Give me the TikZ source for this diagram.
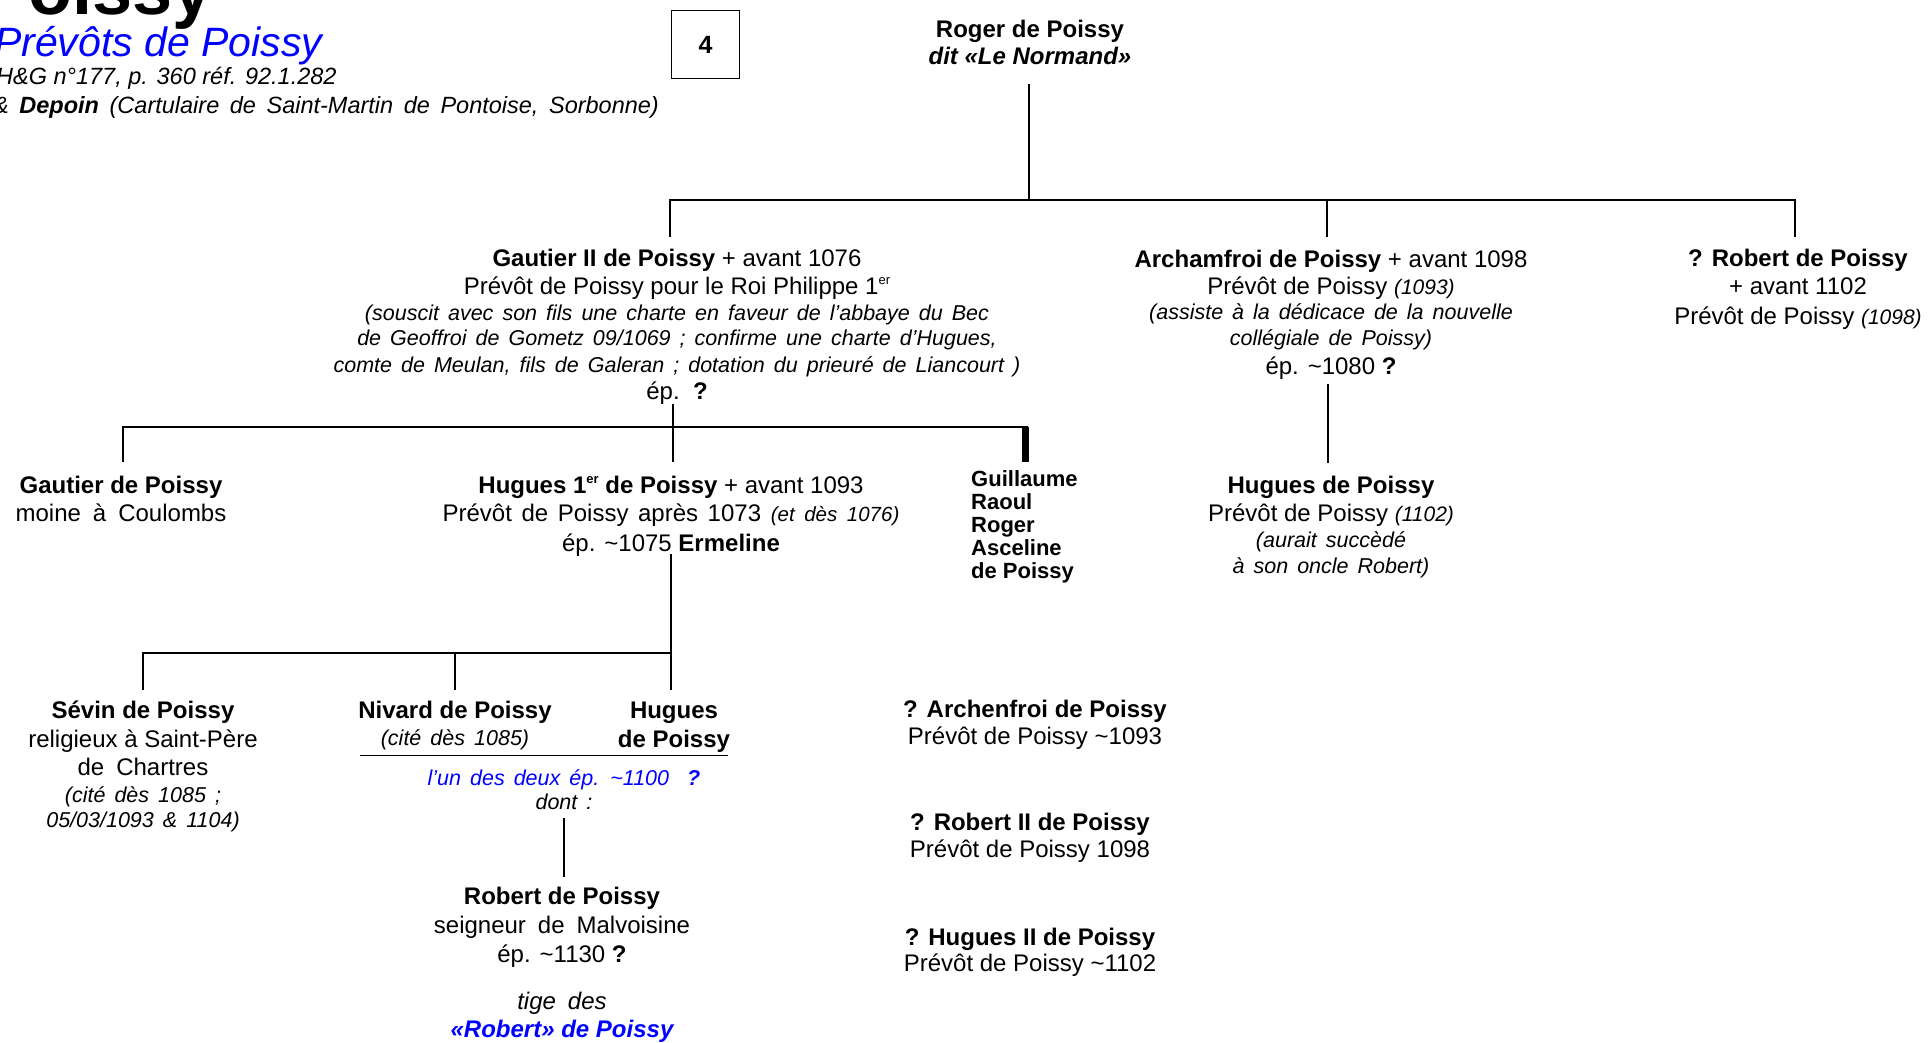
\documentclass[tikz,border=0pt]{standalone}
\usepackage{fontspec}
\setmainfont{Liberation Sans}
\definecolor{refblue}{RGB}{0,0,255}
\newcommand\ws{\spaceskip=0.5em plus 0.1em\relax}
\newcommand\nt{\fontsize{21.5}{25}\selectfont\itshape\spaceskip=0.42em plus 0.1em\relax}
\newcommand\sm{\fontsize{21}{25}\selectfont\itshape}
\newcommand\supr[1]{\raisebox{0.75ex}{\fontsize{13}{13}\selectfont #1}}
\begin{document}
\begin{tikzpicture}[x=1pt,y=-1pt,
  person/.style={align=center, inner sep=0pt, anchor=base, font=\fontsize{24}{28}\selectfont},
  hdr/.style={anchor=base west, inner sep=0pt},
  link/.style={line width=2.5pt, line join=miter},
  thin/.style={line width=1pt}]
\useasboundingbox (0,0) rectangle (1932,1042);
\clip (0,0) rectangle (1932,1042);

% header
\node[hdr, font=\fontsize{72}{72}\selectfont\bfseries] (title) at (-20,14) {Poissy};
\node[hdr, font=\fontsize{41}{41}\selectfont\itshape, text=refblue] (sub) at (-6,56) {Prévôts de Poissy};
\node[hdr, font=\fontsize{23.5}{28}\selectfont\itshape] (ref1) at (-4,84) {H\&G n°177, p. 360 réf. 92.1.282};
\node[hdr, font=\fontsize{23.5}{28}\selectfont\itshape] (ref2) at (-7,113) {\spaceskip=0.45em\relax\& {\bfseries Depoin} (Cartulaire de Saint-Martin de Pontoise, Sorbonne)};
\node[draw, line width=1.2pt, minimum width=68pt, minimum height=68pt, inner sep=0pt, font=\fontsize{25}{25}\selectfont\bfseries] (num) at (705.5,44.5) {4};

% generation 1 (node base = last line baseline)
\node[person] (roger) at (1030,64) {\bfseries Roger de Poissy\\[-1pt]{\bfseries\itshape dit «Le Normand»}};

% generation 2
\node[person] (gautier2) at (677,399) {{\bfseries Gautier II de Poissy} + avant 1076\\
Prévôt de Poissy pour le Roi Philippe 1\supr{er}\\[-2pt]
{\nt (souscit avec son fils une charte en faveur de l’abbaye du Bec}\\[-3pt]
{\nt de Geoffroi de Gometz 09/1069 ; confirme une charte d’Hugues,}\\[-1pt]
{\nt comte de Meulan, fils de Galeran ; dotation du prieuré de Liancourt )}\\[-1pt]
ép.\ \ {\bfseries ?}};

\node[person] (archamfroi) at (1331,374) {{\bfseries Archamfroi de Poissy} + avant 1098\\[-1pt]
Prévôt de Poissy {\sm (1093)}\\[-3pt]
{\nt (assiste à la dédicace de la nouvelle}\\[-2pt]
{\nt collégiale de Poissy)}\\[1pt]
ép. \textasciitilde1080 {\bfseries ?}};

\node[person] (robert1) at (1798,324) {{\bfseries ? Robert de Poissy}\\
+ avant 1102\\[2pt]
Prévôt de Poissy {\sm (1098)}};

% generation 3
\node[person] (gautier) at (121,521) {{\bfseries Gautier de Poissy}\\
{\ws moine à Coulombs}};

\node[person] (hugues1) at (671,551) {{\bfseries Hugues 1\supr{er} de Poissy} + avant 1093\\
{\spaceskip=0.4em\relax Prévôt de Poissy après 1073 {\fontsize{20.5}{25}\selectfont\itshape (et dès 1076)}}\\[2pt]
ép. \textasciitilde1075 {\bfseries Ermeline}};

\node[anchor=base west, align=left, inner sep=0pt, font=\fontsize{22}{23}\selectfont\bfseries] (freres) at (971,578) {Guillaume\\Raoul\\Roger\\Asceline\\de Poissy};

\node[person] (huguesA) at (1331,573) {{\bfseries Hugues de Poissy}\\
Prévôt de Poissy {\sm (1102)}\\[-2pt]
{\nt (aurait succèdé}\\[-2pt]
{\nt à son oncle Robert)}};

% generation 4
\node[person] (sevin) at (143,827) {{\bfseries Sévin de Poissy}\\[1pt]
religieux à Saint-Père\\
{\ws de Chartres}\\[-1pt]
{\nt (cité dès 1085 ;}\\[-3pt]
{\nt 05/03/1093 \& 1104)}};

\node[person] (nivard) at (455,745) {{\bfseries Nivard de Poissy}\\[-1pt]
{\nt (cité dès 1085)}};

\node[person] (hugues2) at (674,747) {{\bfseries Hugues}\\[1pt]{\bfseries de Poissy}};

\node[person] (undes) at (564,809) {{\nt\color{refblue}l’un des deux ép. \textasciitilde1100\ \ {\bfseries ?}}\\[-4pt]{\nt dont :}};

\node[person] (robert2) at (562,962) {{\bfseries Robert de Poissy}\\[1pt]
{\ws seigneur de Malvoisine}\\[1pt]
ép. \textasciitilde1130 {\bfseries ?}};

\node[person] (tige) at (562,1037) {{\itshape\ws tige des}\\
{\itshape\bfseries\color{refblue}«Robert» de Poissy}};

% right column
\node[person] (archenfroi) at (1035,744) {{\bfseries ? Archenfroi de Poissy}\\[-1pt]Prévôt de Poissy \textasciitilde1093};
\node[person] (robertII) at (1030,857) {{\bfseries ? Robert II de Poissy}\\[-1pt]Prévôt de Poissy 1098};
\node[person] (huguesII) at (1030,971) {{\bfseries ? Hugues II de Poissy}\\[-2pt]Prévôt de Poissy \textasciitilde1102};

% connectors
\coordinate (rA) at (1029,84);
\coordinate (rB) at (1029,200);
\coordinate (gA) at (670,237);
\coordinate (aTop) at (1327,200);
\coordinate (aA) at (1327,237);
\coordinate (rbA) at (1795,237);
\draw[link] (rA) -- (rB);
\draw[link] (gA) |- (rB) -| (rbA);
\draw[link] (aTop) -- (aA);

\coordinate (g2A) at (673,404);
\coordinate (g2B) at (673,462);
\coordinate (l2L) at (123,462);
\coordinate (l2R) at (1028,427);
\draw[link] (g2A) -- (g2B);
\draw[link] (l2L) |- (l2R);
\draw[line width=7pt] (1025,427) -- (1025,462);

\coordinate (arA) at (1328,384);
\coordinate (arB) at (1328,463);
\draw[link] (arA) -- (arB);

\coordinate (h1A) at (671,554);
\coordinate (h1B) at (671,690);
\coordinate (sA) at (143,690);
\coordinate (nA) at (455,690);
\coordinate (nTop) at (455,653);
\draw[link] (h1A) -- (h1B);
\draw[link] (sA) |- (671,653);
\draw[link] (nTop) -- (nA);

\coordinate (tL) at (360,755);
\coordinate (tR) at (728,755);
\draw[thin] (tL) -- (tR);

\coordinate (dA) at (564,818);
\coordinate (dB) at (564,877);
\draw[link] (dA) -- (dB);
\end{tikzpicture}
\end{document}
